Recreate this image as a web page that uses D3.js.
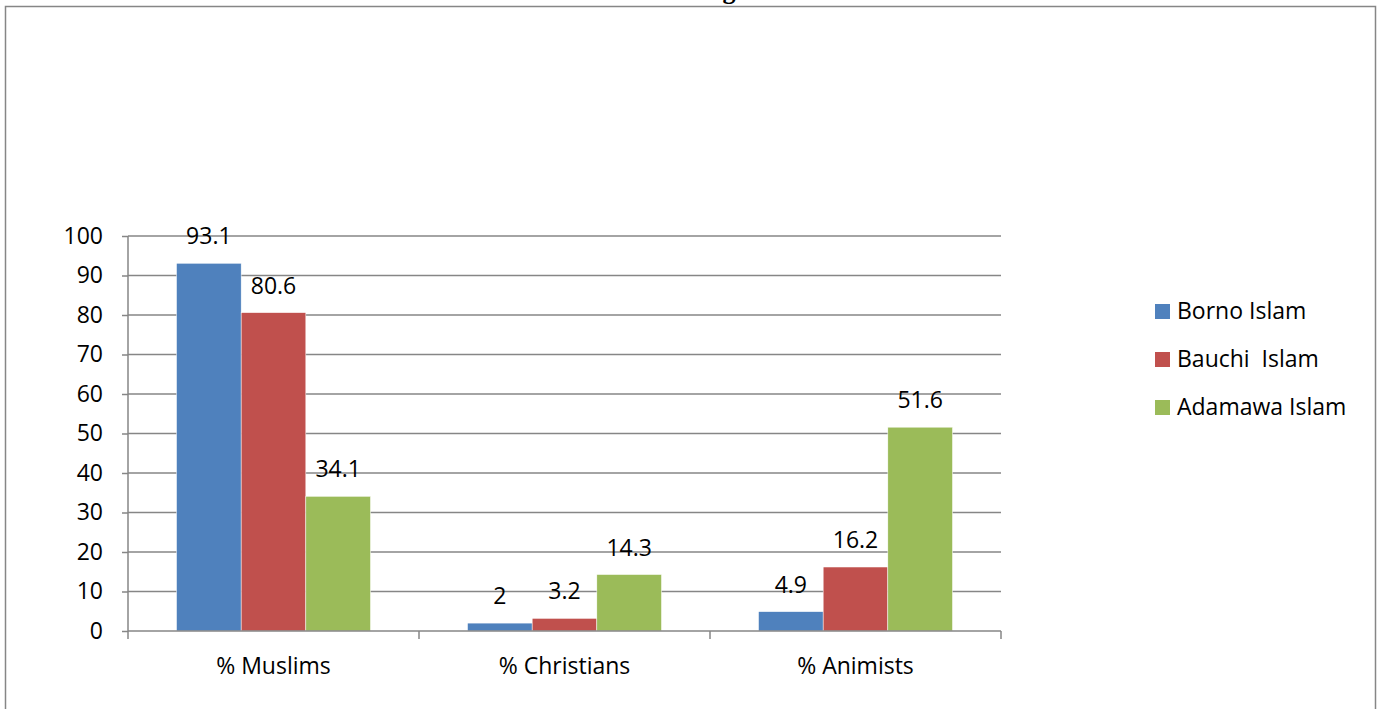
<!DOCTYPE html>
<html>
<head>
<meta charset="utf-8">
<script src="https://cdn.jsdelivr.net/npm/d3@7"></script>
<style>
  body { margin: 0; background: #fff; }
  text { font-family: "Open Sans", Lato, sans-serif; fill: #000; }
</style>
</head>
<body>
<div id="holder"></div>
<script>
const categories = ["% Muslims", "% Christians", "% Animists"];
const seriesNames = ["Borno Islam", "Bauchi  Islam", "Adamawa Islam"];
const borno = [93.1, 2, 4.9];
const bauchi = [80.6, 3.2, 16.2];
const adamawa = [34.1, 14.3, 51.6];
const yTicks = [0, 10, 20, 30, 40, 50, 60, 70, 80, 90, 100];
const colors = ["#4F81BD", "#C0504D", "#9BBB59"];

const width = 1381;
const height = 709;
const plot = { left: 128, right: 1001, top: 236, bottom: 631 };
const fontSize = "23px";

const svg = d3.select("#holder")
    .append("svg")
    .attr("width", width)
    .attr("height", height);

// outer frame (bottom runs past the picture)
svg.append("rect")
    .attr("x", 5.5)
    .attr("y", 6.5)
    .attr("width", 1370)
    .attr("height", 720)
    .attr("fill", "none")
    .attr("stroke", "#868686")
    .attr("stroke-width", 1.5);

// title, cut off at the top of the page as in the source
svg.append("text")
    .attr("x", 729)
    .attr("y", -1)
    .attr("text-anchor", "middle")
    .style("font-family", "'Liberation Serif', serif")
    .style("font-weight", "bold")
    .style("font-size", "26px")
    .text("g");

const xScale = d3.scaleBand()
    .domain(categories)
    .range([plot.left, plot.right]);

const xInner = d3.scaleBand()
    .domain(seriesNames)
    .range([xScale.bandwidth() / 6, xScale.bandwidth() * 5 / 6]);

const yScale = d3.scaleLinear()
    .domain([0, 100])
    .range([plot.bottom, plot.top]);

// gridlines
svg.append("g")
    .selectAll("line")
    .data(yTicks.slice(1))
    .enter()
    .append("line")
    .attr("x1", plot.left)
    .attr("x2", plot.right)
    .attr("y1", (d) => yScale(d))
    .attr("y2", (d) => yScale(d))
    .attr("stroke", "#868686")
    .attr("stroke-width", 1.5);

// y axis
const yAxis = d3.axisLeft(yScale)
    .tickValues(yTicks)
    .tickSize(6)
    .tickPadding(19)
    .tickFormat(d3.format("d"));

svg.append("g")
    .attr("transform", `translate(${plot.left}, 0)`)
    .call(yAxis)
    .call((g) => g.select(".domain").remove())
    .call((g) => g.selectAll("line").attr("stroke", "#868686").attr("stroke-width", 1.5))
    .call((g) => g.selectAll("text").style("font-size", fontSize).style("font-family", "'Open Sans', sans-serif"));

svg.append("line")
    .attr("x1", plot.left)
    .attr("x2", plot.left)
    .attr("y1", plot.top)
    .attr("y2", plot.bottom)
    .attr("stroke", "#868686")
    .attr("stroke-width", 1.5);

// bars
const rows = categories.map((c, i) => ({
    category: c,
    values: [borno[i], bauchi[i], adamawa[i]]
}));

const groups = svg.append("g")
    .selectAll("g")
    .data(rows)
    .enter()
    .append("g")
    .attr("transform", (d) => `translate(${xScale(d.category)}, 0)`);

groups.selectAll("rect")
    .data((d) => d.values.map((v, j) => ({ name: seriesNames[j], value: v, color: colors[j] })))
    .enter()
    .append("rect")
    .attr("x", (d) => xInner(d.name))
    .attr("y", (d) => yScale(d.value))
    .attr("width", xInner.bandwidth())
    .attr("height", (d) => plot.bottom - yScale(d.value))
    .attr("fill", (d) => d.color)
    .attr("stroke", "#fff")
    .attr("stroke-width", 0.5);

groups.selectAll("text.value")
    .data((d) => d.values.map((v, j) => ({ name: seriesNames[j], value: v })))
    .enter()
    .append("text")
    .attr("class", "value")
    .attr("x", (d) => xInner(d.name) + xInner.bandwidth() / 2)
    .attr("y", (d) => yScale(d.value) - 19)
    .attr("text-anchor", "middle")
    .style("font-size", fontSize)
    .text((d) => d.value);

// x axis
svg.append("line")
    .attr("x1", plot.left)
    .attr("x2", plot.right)
    .attr("y1", plot.bottom)
    .attr("y2", plot.bottom)
    .attr("stroke", "#868686")
    .attr("stroke-width", 1.5);

const xBounds = categories.map((c) => xScale(c)).concat([plot.right]);
svg.append("g")
    .selectAll("line")
    .data(xBounds)
    .enter()
    .append("line")
    .attr("x1", (d) => d)
    .attr("x2", (d) => d)
    .attr("y1", plot.bottom)
    .attr("y2", plot.bottom + 8)
    .attr("stroke", "#868686")
    .attr("stroke-width", 1.5);

svg.append("g")
    .selectAll("text")
    .data(categories)
    .enter()
    .append("text")
    .attr("x", (d) => xScale(d) + xScale.bandwidth() / 2)
    .attr("y", 674)
    .attr("text-anchor", "middle")
    .style("font-size", fontSize)
    .text((d) => d);

// legend
const legend = svg.append("g")
    .selectAll("g")
    .data(seriesNames)
    .enter()
    .append("g")
    .attr("transform", (d, i) => `translate(1155, ${304 + i * 48})`);

legend.append("rect")
    .attr("width", 15)
    .attr("height", 15)
    .attr("fill", (d, i) => colors[i]);

legend.append("text")
    .attr("x", 22)
    .attr("y", 15)
    .style("font-size", fontSize)
    .style("white-space", "pre")
    .attr("xml:space", "preserve")
    .text((d) => d);
</script>
</body>
</html>
